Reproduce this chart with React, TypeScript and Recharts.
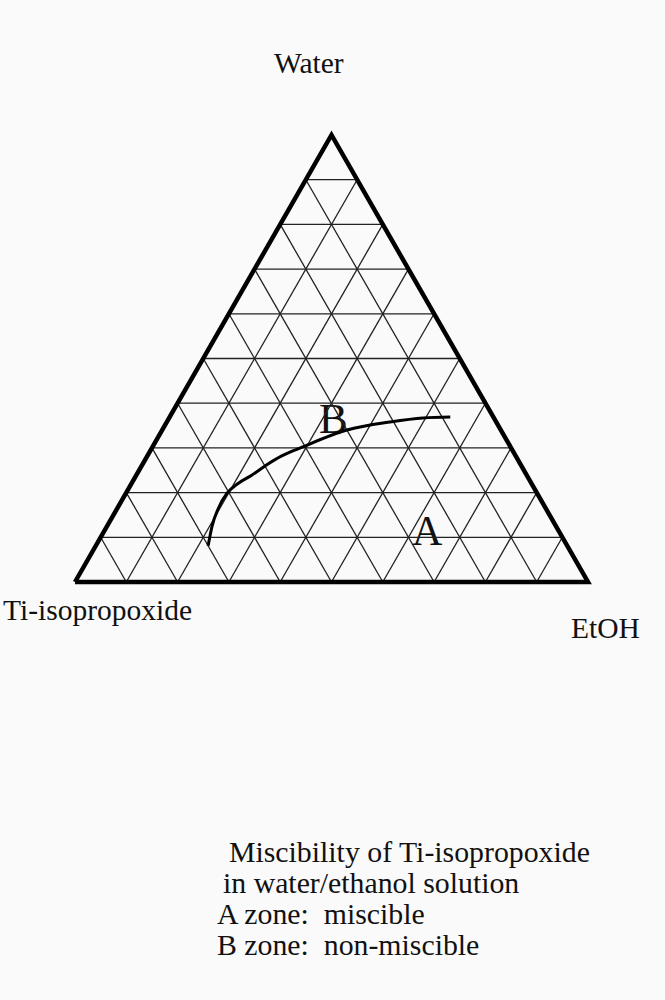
import React from 'react';
import { ScatterChart, Scatter, XAxis, YAxis, ReferenceLine, Customized } from 'recharts';

// composition of the miscibility boundary (fractions)
const curveWater = [0.081, 0.124, 0.165, 0.198, 0.221, 0.239, 0.260, 0.282, 0.301, 0.340, 0.358, 0.367, 0.369];
const curveEtoh = [0.219, 0.205, 0.197, 0.197, 0.208, 0.225, 0.241, 0.262, 0.291, 0.360, 0.435, 0.495, 0.547];
const curveTi = [0.700, 0.671, 0.638, 0.605, 0.571, 0.536, 0.499, 0.456, 0.408, 0.300, 0.207, 0.138, 0.084];

const vertexNames = ['Water', 'Ti-isopropoxide', 'EtOH'];
const gridSteps = [0.1, 0.2, 0.3, 0.4, 0.5, 0.6, 0.7, 0.8, 0.9];

const captionLines = [
  'Miscibility of Ti-isopropoxide',
  'in water/ethanol solution',
  'A zone:  miscible',
  'B zone:  non-miscible',
];

const H = Math.sqrt(3) / 2;
const FONT = '"Liberation Serif", "DejaVu Serif", Times, serif';

// ternary (water, etoh) -> cartesian
const toXY = (w: number, e: number) => ({ x: e + w / 2, y: w * H });

const curveData = curveWater.map((w, i) => ({ ...toXY(w, curveEtoh[i]), ti: curveTi[i] }));
const triangleData = [toXY(0, 0), toXY(0, 1), toXY(1, 0), toXY(0, 0)];

const gridSegments: { x: number; y: number }[][] = [];
gridSteps.forEach((v) => {
  gridSegments.push([toXY(v, 0), toXY(v, 1 - v)]); // constant water
  gridSegments.push([toXY(0, v), toXY(1 - v, v)]); // constant EtOH
  gridSegments.push([toXY(0, 1 - v), toXY(1 - v, 0)]); // constant Ti
});

const Labels = () => (
  <g fontFamily={FONT} fill="#111">
    <text x={274} y={73} fontSize={29.5}>{vertexNames[0]}</text>
    <text x={3} y={620} fontSize={29.5}>{vertexNames[1]}</text>
    <text x={571} y={638} fontSize={29.5}>{vertexNames[2]}</text>
    <text x={319} y={433} fontSize={43}>B</text>
    <text x={412} y={545} fontSize={42}>A</text>
    {captionLines.map((t, i) => (
      <text key={i} x={[229, 223, 217, 217][i]} y={862 + i * 31} fontSize={29.8} xmlSpace="preserve">{t}</text>
    ))}
  </g>
);

export default function App() {
  return (
    <div style={{ position: 'absolute', left: 0, top: 0, background: '#fafafa' }}>
      <ScatterChart width={665} height={1000} margin={{ top: 135, right: 77, bottom: 418, left: 75 }}>
        <XAxis type="number" dataKey="x" domain={[0, 1]} hide />
        <YAxis type="number" dataKey="y" domain={[0, H]} hide />
        {gridSegments.map((seg, i) => (
          <ReferenceLine key={i} segment={seg} stroke="#222" strokeWidth={1.3} />
        ))}
        <Scatter
          data={triangleData}
          line={{ stroke: '#000', strokeWidth: 4.5, strokeLinejoin: 'miter' }}
          shape={() => null}
          isAnimationActive={false}
        />
        <Scatter
          data={curveData}
          line={{ stroke: '#000', strokeWidth: 3 }}
          lineJointType="monotoneX"
          shape={() => null}
          isAnimationActive={false}
        />
        <Customized component={Labels} />
      </ScatterChart>
    </div>
  );
}
